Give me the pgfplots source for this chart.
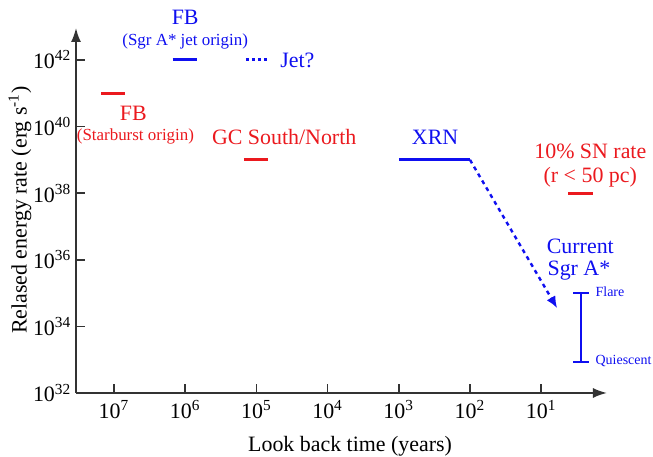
\documentclass[border=0pt]{standalone}
\usepackage{fontspec}
\setmainfont{Liberation Serif}
\usepackage{pgfplots}
\pgfplotsset{compat=1.18}
\usetikzlibrary{arrows.meta}
\definecolor{myred}{RGB}{235,25,30}
\definecolor{myblue}{RGB}{15,15,240}
\begin{document}
\fontsize{11}{13}\selectfont
\begin{tikzpicture}
\begin{axis}[
 scale only axis, width=265.5bp, height=182.5bp,
 xmode=log, ymode=log, x dir=reverse,
 xmin=1.19, xmax=3.42e7, ymin=1e32, ymax=9.1e42,
 axis lines=left,
 axis line style={line width=0.9bp, draw=black!80},
 x axis line style={{Latex[length=7bp,width=5bp]}-},
 y axis line style={-{Latex[length=7bp,width=5bp]}},
 xtick={1e7,1e6,1e5,1e4,1e3,1e2,1e1},
 xticklabels={10\textsuperscript{7},10\textsuperscript{6},10\textsuperscript{5},10\textsuperscript{4},10\textsuperscript{3},10\textsuperscript{2},10\textsuperscript{1}},
 ytick={1e32,1e34,1e36,1e38,1e40,1e42},
 yticklabels={10\textsuperscript{32},10\textsuperscript{34},10\textsuperscript{36},10\textsuperscript{38},10\textsuperscript{40},10\textsuperscript{42}},
 yticklabel style={xshift=1.5bp},
 xminorticks=false, yminorticks=false,
 tick align=inside, major tick length=4.5bp,
 tick style={line width=0.8bp, draw=black!80},
 clip=false,
 xlabel={Look back time (years)},
 xlabel style={at={(axis cs:4830,1e32)}, anchor=north, yshift=-18bp},
]
\coordinate (O) at (axis cs:3.42e7,1e32);
\addplot[myred, line width=1.5bp] coordinates {(1.5e7,1e41) (7e6,1e41)};
\addplot[myblue, line width=1.5bp] coordinates {(1.5e6,1e42) (6.8e5,1e42)};
\addplot[myblue, line width=1.5bp, dash pattern=on 1.5bp off 1.5bp] coordinates {(1.4e5,1e42) (6.6e4,1e42)};
\addplot[myred, line width=1.5bp] coordinates {(1.5e5,1e39) (6.9e4,1e39)};
\addplot[myblue, line width=1.5bp] coordinates {(1000,1e39) (100,1e39)};
\addplot[myblue, line width=1.2bp, dash pattern=on 2bp off 2bp, -{Latex[length=6bp,width=5bp]}] coordinates {(100,1e39) (5.96,3.5e34)};
\addplot[myred, line width=1.5bp] coordinates {(4.2,1e38) (1.9,1e38)};
\addplot[myblue, line width=1.2bp] coordinates {(2.75,8.5e32) (2.75,1e35)};
\addplot[myblue, line width=1.2bp] coordinates {(3.55,1e35) (2.14,1e35)};
\addplot[myblue, line width=1.2bp] coordinates {(3.55,8.5e32) (2.14,8.5e32)};

\node[myblue] at (axis cs:1e6,1.95e43) {FB};
\node[myblue, font=\fontsize{8.5}{10}\selectfont] at (axis cs:1e6,3.47e42) {(Sgr A* jet origin)};
\node[myblue, anchor=west, inner sep=0pt] at (axis cs:4.68e4,1e42) {Jet?};
\node[myred] at (axis cs:5.37e6,2.57e40) {FB};
\node[myred, font=\fontsize{8.5}{10}\selectfont] at (axis cs:5e6,4.9e39) {(Starburst origin)};
\node[myred] at (axis cs:4.07e4,4.9e39) {GC South/North};
\node[myblue] at (axis cs:309,4.9e39) {XRN};
\node[myred] at (axis cs:2.04,1.74e39) {10\% SN rate};
\node[myred] at (axis cs:2.04,3.09e38) {(r < 50 pc)};
\node[myblue] at (axis cs:2.82,2.57e36) {Current};
\node[myblue] at (axis cs:2.95,4.57e35) {Sgr A*};
\node[myblue, anchor=west, inner sep=0pt, font=\fontsize{7}{8}\selectfont] at (axis cs:1.74,1.07e35) {Flare};
\node[myblue, anchor=west, inner sep=0pt, font=\fontsize{7}{8}\selectfont] at (axis cs:1.74,9.1e32) {Quiescent};
\end{axis}
\node[rotate=90, anchor=center] at ([shift={(-28bp,91.5bp)}]O) {Relased energy rate (erg s\textsuperscript{-1})};
\pgfresetboundingbox
\path ([shift={(-38bp,-32bp)}]O) rectangle ([shift={(288.5bp,196.5bp)}]O);
\end{tikzpicture}
\end{document}
